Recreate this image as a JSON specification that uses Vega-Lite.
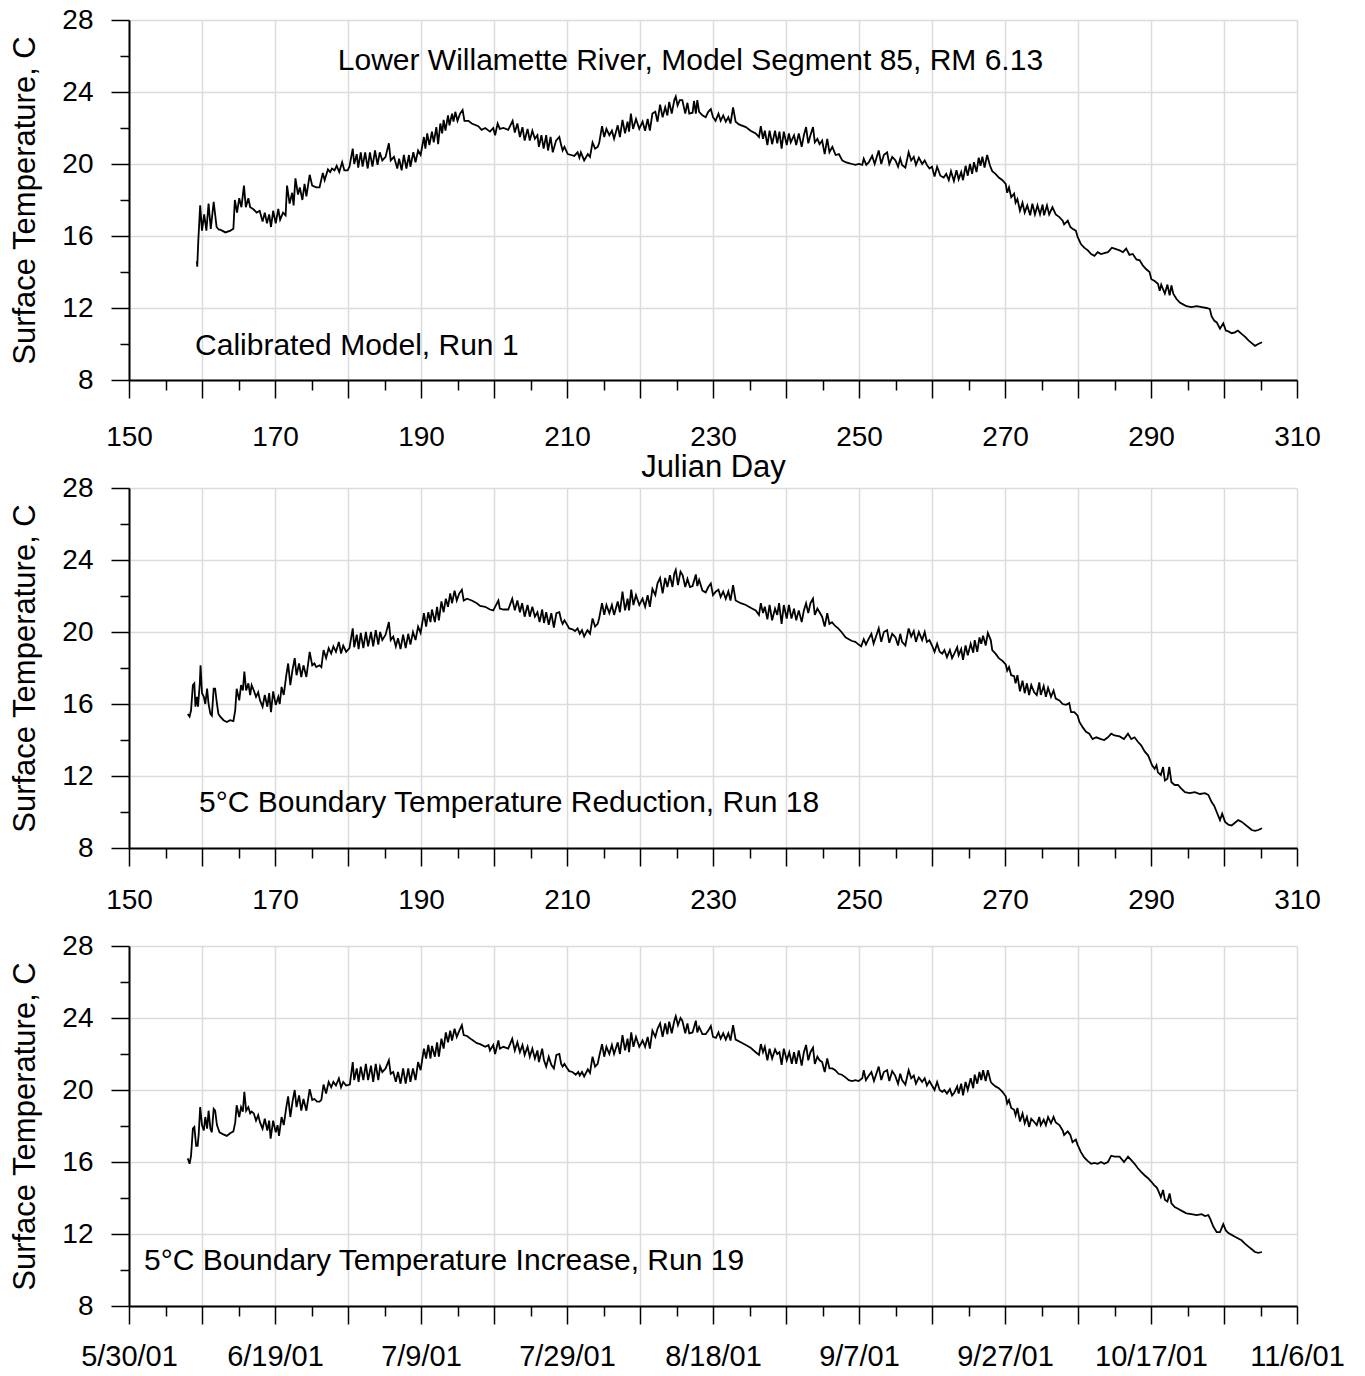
{
"$schema":"https://vega.github.io/schema/vega-lite/v6.json",
"padding":{"left":9,"top":6,"right":5,"bottom":2},
"bounds":"full",
"spacing":18,
"datasets":{
"r1":[{"d":159.3,"t":14.6},{"d":159.35,"t":14.3},{"d":159.5,"t":15.8},{"d":159.75,"t":17.7},{"d":160.0,"t":16.3},{"d":160.3,"t":17.2},{"d":160.6,"t":16.3},{"d":160.9,"t":17.8},{"d":161.2,"t":16.4},{"d":161.6,"t":17.9},{"d":162.0,"t":16.5},{"d":162.3,"t":16.35},{"d":162.5,"t":16.35},{"d":163.2,"t":16.2},{"d":163.9,"t":16.3},{"d":164.3,"t":16.4},{"d":164.5,"t":18.0},{"d":164.8,"t":17.3},{"d":165.1,"t":18.1},{"d":165.4,"t":17.6},{"d":165.75,"t":18.8},{"d":166.0,"t":17.6},{"d":166.35,"t":18.1},{"d":166.6,"t":17.6},{"d":167.0,"t":17.5},{"d":167.5,"t":17.3},{"d":167.9,"t":17.4},{"d":168.3,"t":16.8},{"d":168.6,"t":17.3},{"d":168.9,"t":16.7},{"d":169.2,"t":17.2},{"d":169.45,"t":16.5},{"d":169.75,"t":17.4},{"d":170.1,"t":16.7},{"d":170.45,"t":17.5},{"d":170.7,"t":16.9},{"d":171.1,"t":17.3},{"d":171.45,"t":17.15},{"d":171.65,"t":18.8},{"d":172.0,"t":17.8},{"d":172.35,"t":18.4},{"d":172.55,"t":17.7},{"d":172.8,"t":19.2},{"d":173.15,"t":18.3},{"d":173.4,"t":18.7},{"d":173.75,"t":18.0},{"d":174.05,"t":18.9},{"d":174.3,"t":18.2},{"d":174.75,"t":19.4},{"d":175.1,"t":18.8},{"d":175.65,"t":18.7},{"d":176.1,"t":18.7},{"d":176.55,"t":19.5},{"d":176.8,"t":19.1},{"d":177.25,"t":19.7},{"d":177.55,"t":19.55},{"d":177.8,"t":19.75},{"d":178.15,"t":19.65},{"d":178.45,"t":19.9},{"d":178.8,"t":19.55},{"d":179.2,"t":20.1},{"d":179.5,"t":19.65},{"d":179.95,"t":19.65},{"d":180.2,"t":19.85},{"d":180.65,"t":20.85},{"d":180.85,"t":20.0},{"d":181.2,"t":20.55},{"d":181.4,"t":19.8},{"d":181.75,"t":20.65},{"d":182.0,"t":19.85},{"d":182.35,"t":20.65},{"d":182.7,"t":19.75},{"d":183.0,"t":20.65},{"d":183.35,"t":19.85},{"d":183.7,"t":20.75},{"d":184.05,"t":19.95},{"d":184.35,"t":20.65},{"d":184.7,"t":20.2},{"d":185.15,"t":20.4},{"d":185.6,"t":21.15},{"d":185.85,"t":20.2},{"d":186.3,"t":20.4},{"d":186.75,"t":19.75},{"d":187.0,"t":20.3},{"d":187.35,"t":19.65},{"d":187.65,"t":20.5},{"d":188.0,"t":19.75},{"d":188.35,"t":20.5},{"d":188.55,"t":19.85},{"d":188.95,"t":20.65},{"d":189.25,"t":20.1},{"d":189.6,"t":20.75},{"d":189.95,"t":20.5},{"d":190.4,"t":21.5},{"d":190.6,"t":20.85},{"d":190.85,"t":21.7},{"d":191.15,"t":21.05},{"d":191.5,"t":21.8},{"d":191.75,"t":21.2},{"d":192.1,"t":22.05},{"d":192.35,"t":21.1},{"d":192.65,"t":22.25},{"d":192.9,"t":21.7},{"d":193.1,"t":22.45},{"d":193.35,"t":21.85},{"d":193.7,"t":22.7},{"d":193.9,"t":22.15},{"d":194.25,"t":22.8},{"d":194.45,"t":22.35},{"d":194.7,"t":22.9},{"d":195.0,"t":22.4},{"d":195.35,"t":22.8},{"d":195.7,"t":23.0},{"d":195.95,"t":22.4},{"d":196.5,"t":22.4},{"d":196.95,"t":22.25},{"d":197.85,"t":22.1},{"d":198.3,"t":21.9},{"d":198.8,"t":22.0},{"d":199.45,"t":21.8},{"d":199.9,"t":22.0},{"d":200.15,"t":21.6},{"d":200.5,"t":22.25},{"d":200.8,"t":21.95},{"d":201.3,"t":22.0},{"d":201.95,"t":21.9},{"d":202.55,"t":22.4},{"d":202.85,"t":21.75},{"d":203.2,"t":22.25},{"d":203.55,"t":21.5},{"d":203.9,"t":22.05},{"d":204.2,"t":21.3},{"d":204.6,"t":21.95},{"d":204.9,"t":21.3},{"d":205.25,"t":21.85},{"d":205.6,"t":21.4},{"d":205.95,"t":21.6},{"d":206.15,"t":20.95},{"d":206.5,"t":21.6},{"d":206.8,"t":20.85},{"d":207.15,"t":21.6},{"d":207.4,"t":20.75},{"d":207.75,"t":21.5},{"d":208.05,"t":20.65},{"d":208.5,"t":21.3},
{"d":208.95,"t":21.5},{"d":209.2,"t":21.05},{"d":209.4,"t":20.75},{"d":209.65,"t":20.95},{"d":210.1,"t":20.55},{"d":210.55,"t":20.5},{"d":211.0,"t":20.45},{"d":211.45,"t":20.65},{"d":211.7,"t":20.35},{"d":211.9,"t":20.65},{"d":212.35,"t":20.2},{"d":212.85,"t":20.55},{"d":213.15,"t":20.4},{"d":213.5,"t":21.2},{"d":213.85,"t":20.85},{"d":214.2,"t":20.95},{"d":214.4,"t":21.15},{"d":214.8,"t":22.1},{"d":215.1,"t":21.5},{"d":215.4,"t":21.95},{"d":215.8,"t":21.6},{"d":216.15,"t":21.85},{"d":216.45,"t":21.4},{"d":216.95,"t":22.15},{"d":217.25,"t":21.5},{"d":217.6,"t":22.45},{"d":217.95,"t":21.7},{"d":218.3,"t":22.35},{"d":218.5,"t":21.8},{"d":218.75,"t":22.8},{"d":219.05,"t":21.95},{"d":219.45,"t":22.5},{"d":219.9,"t":21.95},{"d":220.35,"t":22.35},{"d":220.7,"t":21.85},{"d":221.05,"t":22.5},{"d":221.35,"t":21.85},{"d":221.7,"t":22.8},{"d":222.1,"t":22.9},{"d":222.4,"t":22.35},{"d":222.75,"t":23.3},{"d":223.1,"t":22.6},{"d":223.45,"t":23.15},{"d":223.75,"t":22.7},{"d":224.0,"t":23.45},{"d":224.35,"t":22.8},{"d":224.7,"t":23.55},{"d":224.9,"t":23.75},{"d":225.15,"t":23.25},{"d":225.45,"t":23.55},{"d":225.8,"t":23.55},{"d":226.2,"t":22.8},{"d":226.5,"t":23.4},{"d":226.75,"t":22.8},{"d":227.2,"t":22.85},{"d":227.4,"t":23.5},{"d":227.65,"t":22.8},{"d":227.85,"t":23.55},{"d":228.1,"t":22.9},{"d":228.55,"t":22.7},{"d":229.0,"t":22.6},{"d":229.35,"t":22.9},{"d":229.7,"t":23.05},{"d":230.0,"t":22.6},{"d":230.35,"t":22.4},{"d":230.75,"t":22.8},{"d":231.05,"t":22.4},{"d":231.4,"t":22.7},{"d":231.75,"t":22.35},{"d":232.1,"t":22.6},{"d":232.4,"t":22.25},{"d":232.75,"t":23.15},{"d":233.1,"t":22.35},{"d":233.55,"t":22.2},{"d":234.5,"t":22.05},{"d":235.15,"t":21.85},{"d":235.85,"t":21.7},{"d":236.3,"t":21.5},{"d":236.55,"t":22.1},{"d":236.85,"t":21.4},{"d":237.1,"t":21.85},{"d":237.45,"t":21.05},{"d":237.75,"t":21.85},{"d":238.1,"t":21.1},{"d":238.5,"t":21.85},{"d":238.8,"t":21.15},{"d":239.1,"t":21.8},{"d":239.4,"t":20.85},{"d":239.7,"t":21.8},{"d":240.1,"t":21.05},{"d":240.4,"t":21.7},{"d":240.65,"t":21.2},{"d":241.1,"t":21.6},{"d":241.4,"t":21.05},{"d":241.75,"t":21.7},{"d":242.15,"t":20.95},{"d":242.45,"t":21.6},{"d":242.75,"t":22.05},{"d":243.05,"t":21.15},{"d":243.35,"t":21.6},{"d":243.7,"t":22.05},{"d":243.95,"t":21.2},{"d":244.3,"t":21.4},{"d":244.6,"t":21.1},{"d":244.95,"t":21.3},{"d":245.3,"t":20.55},{"d":245.65,"t":21.4},{"d":245.95,"t":20.65},{"d":246.35,"t":20.95},{"d":246.8,"t":20.5},{"d":247.25,"t":20.55},{"d":247.7,"t":20.2},{"d":248.15,"t":20.1},{"d":248.6,"t":20.05},{"d":249.05,"t":20.0},{"d":249.5,"t":19.95},{"d":250.0,"t":20.0},{"d":250.45,"t":19.95},{"d":250.65,"t":20.3},{"d":251.0,"t":19.95},{"d":251.35,"t":20.1},{"d":251.8,"t":20.45},{"d":252.15,"t":20.0},{"d":252.7,"t":20.75},{"d":253.05,"t":20.0},{"d":253.4,"t":20.5},{"d":253.85,"t":20.65},{"d":254.15,"t":20.0},{"d":254.55,"t":20.4},{"d":255.0,"t":20.2},{"d":255.35,"t":19.85},{"d":255.65,"t":20.3},{"d":255.9,"t":19.95},{"d":256.35,"t":19.8},{"d":256.8,"t":20.65},{"d":257.15,"t":20.2},{"d":257.5,"t":20.4},{"d":257.8,"t":19.95},{"d":258.2,"t":20.35},{"d":258.65,"t":20.0},{"d":259.0,"t":20.2},{"d":259.3,"t":19.95},{"d":259.65,"t":19.75},{"d":260.0,"t":19.85},{"d":260.35,"t":19.3},{"d":260.7,"t":19.85},
{"d":261.15,"t":19.35},{"d":261.6,"t":19.25},{"d":261.95,"t":19.45},{"d":262.3,"t":19.1},{"d":262.6,"t":19.6},{"d":263.0,"t":19.05},{"d":263.35,"t":19.65},{"d":263.65,"t":19.15},{"d":264.0,"t":19.55},{"d":264.25,"t":19.1},{"d":264.6,"t":19.9},{"d":264.9,"t":19.35},{"d":265.2,"t":20.0},{"d":265.5,"t":19.45},{"d":265.75,"t":20.1},{"d":266.1,"t":19.55},{"d":266.4,"t":20.35},{"d":266.65,"t":19.9},{"d":266.9,"t":20.4},{"d":267.2,"t":19.8},{"d":267.55,"t":20.5},{"d":267.95,"t":19.9},{"d":268.25,"t":19.6},{"d":268.7,"t":19.45},{"d":269.15,"t":19.25},{"d":269.65,"t":19.1},{"d":270.1,"t":18.9},{"d":270.3,"t":18.4},{"d":270.55,"t":18.7},{"d":270.85,"t":18.15},{"d":271.25,"t":18.35},{"d":271.45,"t":17.85},{"d":271.7,"t":18.05},{"d":272.05,"t":17.4},{"d":272.4,"t":17.85},{"d":272.7,"t":17.3},{"d":273.05,"t":17.7},{"d":273.45,"t":17.15},{"d":273.75,"t":17.8},{"d":274.1,"t":17.2},{"d":274.45,"t":17.7},{"d":274.8,"t":17.2},{"d":275.15,"t":17.75},{"d":275.35,"t":17.15},{"d":275.75,"t":17.7},{"d":276.05,"t":17.2},{"d":276.5,"t":17.6},{"d":276.95,"t":17.2},{"d":277.45,"t":17.05},{"d":277.9,"t":16.85},{"d":278.1,"t":16.65},{"d":278.6,"t":16.85},{"d":278.95,"t":16.5},{"d":279.25,"t":16.4},{"d":279.7,"t":16.3},{"d":279.95,"t":15.95},{"d":280.4,"t":15.55},{"d":280.85,"t":15.35},{"d":281.35,"t":15.2},{"d":281.8,"t":15.0},{"d":282.25,"t":14.9},{"d":282.7,"t":15.1},{"d":283.15,"t":15.0},{"d":283.6,"t":15.05},{"d":284.1,"t":15.1},{"d":284.65,"t":15.35},{"d":285.0,"t":15.3},{"d":285.7,"t":15.2},{"d":286.15,"t":15.1},{"d":286.6,"t":15.3},{"d":287.05,"t":14.95},{"d":287.5,"t":15.0},{"d":288.0,"t":14.7},{"d":288.45,"t":14.65},{"d":288.9,"t":14.35},{"d":289.35,"t":14.15},{"d":289.8,"t":14.0},{"d":290.05,"t":13.6},{"d":290.5,"t":13.5},{"d":290.95,"t":13.35},{"d":291.2,"t":12.95},{"d":291.4,"t":13.3},{"d":291.9,"t":12.8},{"d":292.25,"t":13.3},{"d":292.55,"t":12.7},{"d":292.8,"t":13.25},{"d":293.05,"t":12.8},{"d":293.5,"t":12.5},{"d":293.95,"t":12.3},{"d":294.4,"t":12.2},{"d":294.85,"t":12.1},{"d":295.55,"t":12.05},{"d":296.25,"t":12.1},{"d":296.95,"t":12.05},{"d":297.6,"t":12.0},{"d":298.05,"t":11.95},{"d":298.3,"t":11.55},{"d":298.65,"t":11.3},{"d":299.0,"t":11.2},{"d":299.45,"t":10.85},{"d":299.9,"t":11.15},{"d":300.25,"t":10.75},{"d":300.6,"t":10.7},{"d":301.05,"t":10.6},{"d":301.5,"t":10.65},{"d":301.9,"t":10.75},{"d":302.45,"t":10.55},{"d":302.9,"t":10.4},{"d":303.35,"t":10.2},{"d":303.8,"t":10.05},{"d":304.25,"t":9.9},{"d":304.7,"t":10.0},{"d":305.2,"t":10.1}],
"r18":[{"d":158.05,"t":15.45},{"d":158.3,"t":15.3},{"d":158.5,"t":15.65},{"d":158.75,"t":17.05},{"d":158.95,"t":17.15},{"d":159.1,"t":15.85},{"d":159.3,"t":16.4},{"d":159.45,"t":15.85},{"d":159.7,"t":17.15},{"d":159.8,"t":18.15},{"d":160.0,"t":16.6},{"d":160.25,"t":16.4},{"d":160.45,"t":16.0},{"d":160.7,"t":16.85},{"d":160.9,"t":16.0},{"d":161.15,"t":15.45},{"d":161.35,"t":15.35},{"d":161.6,"t":16.85},{"d":161.8,"t":16.85},{"d":162.05,"t":16.0},{"d":162.25,"t":15.45},{"d":162.5,"t":15.3},{"d":162.95,"t":15.1},{"d":163.4,"t":15.0},{"d":163.85,"t":15.1},{"d":164.3,"t":15.05},{"d":164.55,"t":15.65},{"d":164.75,"t":16.85},{"d":165.1,"t":16.2},{"d":165.35,"t":17.05},{"d":165.6,"t":16.75},{"d":165.8,"t":17.8},{"d":166.05,"t":16.75},{"d":166.35,"t":17.15},{"d":166.6,"t":16.5},{"d":166.8,"t":17.05},{"d":167.1,"t":16.75},{"d":167.4,"t":16.4},{"d":167.7,"t":16.65},{"d":167.95,"t":16.2},{"d":168.3,"t":15.85},{"d":168.6,"t":16.5},{"d":168.95,"t":15.85},{"d":169.2,"t":16.6},{"d":169.45,"t":15.55},{"d":169.75,"t":16.7},{"d":170.1,"t":15.95},{"d":170.45,"t":16.4},{"d":170.65,"t":16.0},{"d":170.9,"t":16.95},{"d":171.2,"t":16.5},{"d":171.55,"t":17.6},{"d":171.8,"t":18.25},{"d":172.1,"t":17.05},{"d":172.4,"t":17.9},{"d":172.7,"t":18.55},{"d":172.95,"t":17.6},{"d":173.3,"t":18.25},{"d":173.6,"t":17.5},{"d":173.9,"t":18.15},{"d":174.3,"t":17.5},{"d":174.75,"t":18.9},{"d":175.1,"t":18.15},{"d":175.4,"t":18.25},{"d":175.65,"t":18.05},{"d":176.1,"t":18.15},{"d":176.35,"t":18.05},{"d":176.65,"t":19.0},{"d":177.0,"t":18.55},{"d":177.35,"t":19.1},{"d":177.7,"t":18.8},{"d":178.0,"t":19.2},{"d":178.35,"t":18.9},{"d":178.75,"t":19.45},{"d":179.05,"t":18.8},{"d":179.35,"t":19.25},{"d":179.75,"t":18.9},{"d":180.2,"t":19.1},{"d":180.65,"t":20.2},{"d":180.85,"t":19.15},{"d":181.2,"t":19.85},{"d":181.45,"t":19.05},{"d":181.75,"t":19.95},{"d":182.1,"t":19.1},{"d":182.45,"t":20.0},{"d":182.75,"t":19.2},{"d":183.15,"t":20.0},{"d":183.45,"t":19.2},{"d":183.8,"t":20.1},{"d":184.15,"t":19.3},{"d":184.4,"t":20.0},{"d":184.7,"t":19.55},{"d":185.15,"t":19.85},{"d":185.6,"t":20.55},{"d":185.85,"t":19.55},{"d":186.2,"t":19.75},{"d":186.55,"t":19.2},{"d":186.85,"t":19.65},{"d":187.2,"t":19.05},{"d":187.55,"t":19.85},{"d":187.9,"t":19.1},{"d":188.25,"t":19.9},{"d":188.55,"t":19.3},{"d":188.9,"t":20.0},{"d":189.25,"t":19.55},{"d":189.6,"t":20.3},{"d":189.95,"t":19.95},{"d":190.4,"t":21.05},{"d":190.7,"t":20.3},{"d":191.0,"t":21.1},{"d":191.3,"t":20.55},{"d":191.5,"t":21.25},{"d":191.9,"t":20.55},{"d":192.2,"t":21.4},{"d":192.45,"t":20.65},{"d":192.8,"t":21.7},{"d":193.1,"t":21.1},{"d":193.4,"t":21.85},{"d":193.7,"t":21.4},{"d":194.0,"t":22.15},{"d":194.25,"t":21.6},{"d":194.6,"t":22.3},{"d":194.9,"t":21.75},{"d":195.25,"t":22.15},{"d":195.6,"t":22.35},{"d":195.85,"t":21.75},{"d":196.3,"t":21.85},{"d":196.95,"t":21.75},{"d":197.65,"t":21.6},{"d":198.1,"t":21.45},{"d":198.8,"t":21.4},{"d":199.45,"t":21.25},{"d":199.9,"t":21.2},{"d":200.15,"t":21.4},{"d":200.6,"t":21.75},{"d":200.8,"t":21.3},{"d":201.3,"t":21.25},{"d":201.95,"t":21.25},{"d":202.5,"t":21.85},{"d":202.85,"t":21.2},{"d":203.2,"t":21.75},{"d":203.55,"t":21.1},{"d":203.85,"t":21.6},{"d":204.2,"t":20.85},{"d":204.6,"t":21.5},{"d":204.9,"t":20.85},{"d":205.25,"t":21.4},{"d":205.6,"t":20.85},{"d":205.95,"t":21.1},{"d":206.25,"t":20.55},{"d":206.6,"t":21.25},{"d":206.85,"t":20.5},{"d":207.15,"t":21.1},{"d":207.5,"t":20.4},{"d":207.85,"t":21.05},{"d":208.2,"t":20.25},{"d":208.55,"t":21.05},
{"d":208.95,"t":21.1},{"d":209.2,"t":20.65},{"d":209.4,"t":20.45},{"d":209.65,"t":20.65},{"d":209.95,"t":20.45},{"d":210.3,"t":20.2},{"d":210.75,"t":20.15},{"d":211.1,"t":20.05},{"d":211.45,"t":20.2},{"d":211.75,"t":19.9},{"d":212.05,"t":20.1},{"d":212.35,"t":19.75},{"d":212.8,"t":20.1},{"d":213.15,"t":19.9},{"d":213.5,"t":20.75},{"d":213.85,"t":20.3},{"d":214.2,"t":20.45},{"d":214.4,"t":20.75},{"d":214.8,"t":21.6},{"d":215.1,"t":20.95},{"d":215.4,"t":21.5},{"d":215.8,"t":21.05},{"d":216.15,"t":21.5},{"d":216.45,"t":20.95},{"d":216.95,"t":21.7},{"d":217.25,"t":21.1},{"d":217.6,"t":22.25},{"d":217.95,"t":21.2},{"d":218.3,"t":21.85},{"d":218.5,"t":21.2},{"d":218.8,"t":22.35},{"d":219.1,"t":21.5},{"d":219.45,"t":22.05},{"d":219.9,"t":21.5},{"d":220.35,"t":21.85},{"d":220.7,"t":21.4},{"d":221.05,"t":22.05},{"d":221.35,"t":21.4},{"d":221.7,"t":22.4},{"d":222.1,"t":22.05},{"d":222.4,"t":22.7},{"d":222.75,"t":23.0},{"d":223.1,"t":22.15},{"d":223.45,"t":23.0},{"d":223.75,"t":22.5},{"d":224.1,"t":23.15},{"d":224.45,"t":22.5},{"d":224.7,"t":23.25},{"d":224.9,"t":23.45},{"d":225.2,"t":22.6},{"d":225.55,"t":23.35},{"d":225.85,"t":23.15},{"d":226.2,"t":22.5},{"d":226.5,"t":22.95},{"d":226.85,"t":22.5},{"d":227.2,"t":22.55},{"d":227.65,"t":23.2},{"d":227.85,"t":22.55},{"d":228.1,"t":22.9},{"d":228.55,"t":22.3},{"d":229.0,"t":22.2},{"d":229.35,"t":22.5},{"d":229.7,"t":22.7},{"d":230.0,"t":22.05},{"d":230.4,"t":22.25},{"d":230.75,"t":22.35},{"d":231.05,"t":21.95},{"d":231.4,"t":22.25},{"d":231.75,"t":21.85},{"d":232.1,"t":22.25},{"d":232.4,"t":21.75},{"d":232.75,"t":22.6},{"d":233.1,"t":21.75},{"d":233.8,"t":21.6},{"d":234.5,"t":21.5},{"d":235.15,"t":21.35},{"d":235.85,"t":21.2},{"d":236.3,"t":20.95},{"d":236.55,"t":21.6},{"d":236.85,"t":21.05},{"d":237.1,"t":21.4},{"d":237.45,"t":20.7},{"d":237.75,"t":21.5},{"d":238.1,"t":20.65},{"d":238.5,"t":21.3},{"d":238.8,"t":20.95},{"d":239.05,"t":21.6},{"d":239.4,"t":20.45},{"d":239.7,"t":21.5},{"d":240.1,"t":20.75},{"d":240.4,"t":21.5},{"d":240.75,"t":20.75},{"d":241.1,"t":21.3},{"d":241.4,"t":20.65},{"d":241.75,"t":21.2},{"d":242.15,"t":20.55},{"d":242.45,"t":21.2},{"d":242.75,"t":21.6},{"d":243.05,"t":21.05},{"d":243.35,"t":21.6},{"d":243.7,"t":21.85},{"d":243.95,"t":20.95},{"d":244.3,"t":21.3},{"d":244.6,"t":21.1},{"d":244.95,"t":20.85},{"d":245.3,"t":20.3},{"d":245.65,"t":21.05},{"d":245.95,"t":20.45},{"d":246.3,"t":20.55},{"d":246.7,"t":20.35},{"d":247.15,"t":20.2},{"d":247.6,"t":20.0},{"d":248.15,"t":19.7},{"d":248.6,"t":19.6},{"d":249.05,"t":19.5},{"d":249.5,"t":19.45},{"d":249.95,"t":19.3},{"d":250.3,"t":19.2},{"d":250.65,"t":19.6},{"d":250.95,"t":19.3},{"d":251.3,"t":19.6},{"d":251.7,"t":19.9},{"d":252.0,"t":19.35},{"d":252.7,"t":20.2},{"d":253.05,"t":19.45},{"d":253.4,"t":20.0},{"d":253.85,"t":20.1},{"d":254.15,"t":19.4},{"d":254.55,"t":19.9},{"d":255.0,"t":19.7},{"d":255.35,"t":19.25},{"d":255.65,"t":19.9},{"d":255.9,"t":19.45},{"d":256.35,"t":19.25},{"d":256.8,"t":20.2},{"d":257.15,"t":19.75},{"d":257.5,"t":20.05},{"d":257.8,"t":19.45},{"d":258.2,"t":20.0},{"d":258.65,"t":19.55},{"d":259.0,"t":20.0},{"d":259.3,"t":19.45},{"d":259.65,"t":19.55},{"d":260.0,"t":19.25},{"d":260.35,"t":18.9},{"d":260.7,"t":19.35},
{"d":261.05,"t":18.9},{"d":261.4,"t":18.8},{"d":261.7,"t":19.0},{"d":262.05,"t":18.6},{"d":262.45,"t":19.0},{"d":262.75,"t":18.55},{"d":263.05,"t":18.8},{"d":263.45,"t":19.15},{"d":263.65,"t":18.7},{"d":264.0,"t":19.05},{"d":264.25,"t":18.45},{"d":264.6,"t":19.25},{"d":264.9,"t":18.7},{"d":265.3,"t":19.35},{"d":265.65,"t":18.85},{"d":265.85,"t":19.55},{"d":266.2,"t":18.9},{"d":266.5,"t":19.7},{"d":266.75,"t":19.35},{"d":267.0,"t":19.8},{"d":267.35,"t":19.25},{"d":267.65,"t":19.95},{"d":268.05,"t":19.55},{"d":268.25,"t":19.0},{"d":268.7,"t":18.8},{"d":269.15,"t":18.55},{"d":269.65,"t":18.4},{"d":270.1,"t":18.2},{"d":270.3,"t":17.85},{"d":270.55,"t":18.05},{"d":270.85,"t":17.6},{"d":271.25,"t":17.55},{"d":271.45,"t":17.15},{"d":271.7,"t":17.6},{"d":272.05,"t":16.7},{"d":272.4,"t":17.3},{"d":272.7,"t":16.6},{"d":273.0,"t":17.15},{"d":273.3,"t":16.5},{"d":273.6,"t":17.05},{"d":274.0,"t":16.65},{"d":274.35,"t":16.5},{"d":274.7,"t":17.2},{"d":274.9,"t":16.5},{"d":275.3,"t":17.0},{"d":275.6,"t":16.4},{"d":275.9,"t":16.9},{"d":276.3,"t":16.4},{"d":276.65,"t":16.75},{"d":276.95,"t":16.3},{"d":277.45,"t":16.2},{"d":277.9,"t":16.0},{"d":278.35,"t":15.95},{"d":278.8,"t":16.05},{"d":279.05,"t":15.55},{"d":279.5,"t":15.55},{"d":279.95,"t":15.35},{"d":280.2,"t":15.0},{"d":280.65,"t":14.7},{"d":281.1,"t":14.45},{"d":281.55,"t":14.35},{"d":282.0,"t":14.05},{"d":282.5,"t":14.15},{"d":283.15,"t":14.05},{"d":283.6,"t":14.0},{"d":284.1,"t":14.15},{"d":284.55,"t":14.35},{"d":285.0,"t":14.25},{"d":285.7,"t":14.2},{"d":286.3,"t":14.05},{"d":286.85,"t":14.35},{"d":287.3,"t":14.05},{"d":287.75,"t":14.15},{"d":288.2,"t":13.9},{"d":288.65,"t":13.7},{"d":289.15,"t":13.35},{"d":289.6,"t":13.15},{"d":289.8,"t":12.95},{"d":290.15,"t":12.6},{"d":290.5,"t":12.4},{"d":290.75,"t":12.6},{"d":290.95,"t":12.2},{"d":291.35,"t":12.05},{"d":291.65,"t":12.5},{"d":291.9,"t":11.75},{"d":292.25,"t":11.85},{"d":292.5,"t":12.5},{"d":292.8,"t":11.65},{"d":293.25,"t":11.5},{"d":293.7,"t":11.5},{"d":294.15,"t":11.3},{"d":294.65,"t":11.1},{"d":295.3,"t":11.05},{"d":296.0,"t":11.1},{"d":296.7,"t":11.0},{"d":297.4,"t":11.05},{"d":297.85,"t":10.95},{"d":298.3,"t":10.55},{"d":298.65,"t":10.35},{"d":299.0,"t":10.0},{"d":299.45,"t":9.55},{"d":299.75,"t":9.9},{"d":300.15,"t":9.45},{"d":300.6,"t":9.3},{"d":301.05,"t":9.25},{"d":301.5,"t":9.4},{"d":301.95,"t":9.55},{"d":302.45,"t":9.45},{"d":302.9,"t":9.3},{"d":303.35,"t":9.15},{"d":303.8,"t":9.0},{"d":304.25,"t":8.95},{"d":304.7,"t":9.0},{"d":305.2,"t":9.1}],
"r19":[{"d":158.05,"t":16.2},{"d":158.3,"t":15.9},{"d":158.5,"t":16.35},{"d":158.75,"t":17.85},{"d":158.95,"t":17.95},{"d":159.2,"t":16.9},{"d":159.4,"t":16.9},{"d":159.55,"t":17.55},{"d":159.75,"t":19.05},{"d":160.0,"t":18.05},{"d":160.25,"t":17.75},{"d":160.45,"t":18.5},{"d":160.7,"t":17.85},{"d":160.9,"t":18.85},{"d":161.15,"t":17.85},{"d":161.35,"t":17.65},{"d":161.6,"t":18.95},{"d":161.8,"t":18.85},{"d":162.05,"t":18.05},{"d":162.4,"t":17.65},{"d":162.85,"t":17.55},{"d":163.4,"t":17.45},{"d":163.85,"t":17.6},{"d":164.3,"t":17.7},{"d":164.55,"t":18.2},{"d":164.75,"t":19.15},{"d":165.1,"t":18.5},{"d":165.35,"t":19.05},{"d":165.6,"t":18.8},{"d":165.8,"t":19.9},{"d":166.05,"t":18.85},{"d":166.35,"t":19.05},{"d":166.6,"t":18.7},{"d":166.8,"t":18.8},{"d":167.1,"t":18.7},{"d":167.4,"t":18.3},{"d":167.7,"t":18.6},{"d":167.95,"t":18.2},{"d":168.3,"t":17.85},{"d":168.6,"t":18.4},{"d":168.95,"t":17.75},{"d":169.2,"t":18.3},{"d":169.4,"t":17.3},{"d":169.75,"t":18.3},{"d":170.1,"t":17.65},{"d":170.35,"t":18.05},{"d":170.55,"t":17.45},{"d":170.9,"t":18.5},{"d":171.2,"t":18.05},{"d":171.55,"t":19.05},{"d":171.8,"t":19.65},{"d":172.1,"t":18.5},{"d":172.4,"t":19.35},{"d":172.7,"t":20.0},{"d":172.95,"t":19.05},{"d":173.3,"t":19.7},{"d":173.6,"t":18.85},{"d":173.9,"t":19.5},{"d":174.3,"t":18.85},{"d":174.75,"t":20.05},{"d":175.1,"t":19.45},{"d":175.4,"t":19.5},{"d":175.75,"t":19.35},{"d":176.1,"t":19.35},{"d":176.35,"t":19.45},{"d":176.65,"t":20.3},{"d":177.0,"t":19.8},{"d":177.35,"t":20.45},{"d":177.7,"t":20.15},{"d":178.0,"t":20.45},{"d":178.35,"t":20.25},{"d":178.75,"t":20.65},{"d":179.05,"t":20.15},{"d":179.35,"t":20.45},{"d":179.75,"t":20.25},{"d":180.25,"t":20.3},{"d":180.65,"t":21.55},{"d":180.85,"t":20.55},{"d":181.2,"t":21.2},{"d":181.45,"t":20.45},{"d":181.75,"t":21.3},{"d":182.1,"t":20.55},{"d":182.45,"t":21.45},{"d":182.75,"t":20.55},{"d":183.15,"t":21.35},{"d":183.45,"t":20.45},{"d":183.8,"t":21.45},{"d":184.15,"t":20.55},{"d":184.4,"t":21.3},{"d":184.7,"t":21.0},{"d":185.15,"t":21.2},{"d":185.6,"t":21.65},{"d":185.85,"t":20.9},{"d":186.2,"t":21.0},{"d":186.55,"t":20.45},{"d":186.85,"t":21.0},{"d":187.2,"t":20.35},{"d":187.55,"t":21.2},{"d":187.9,"t":20.35},{"d":188.25,"t":21.2},{"d":188.55,"t":20.45},{"d":188.9,"t":21.2},{"d":189.25,"t":20.55},{"d":189.6,"t":21.55},{"d":189.95,"t":21.1},{"d":190.4,"t":22.3},{"d":190.7,"t":21.75},{"d":191.0,"t":22.5},{"d":191.3,"t":21.75},{"d":191.5,"t":22.45},{"d":191.9,"t":21.85},{"d":192.2,"t":22.65},{"d":192.45,"t":21.85},{"d":192.8,"t":22.85},{"d":193.1,"t":22.3},{"d":193.4,"t":23.2},{"d":193.7,"t":22.65},{"d":194.0,"t":23.3},{"d":194.25,"t":22.75},{"d":194.6,"t":23.4},{"d":194.9,"t":22.95},{"d":195.25,"t":23.3},{"d":195.6,"t":23.6},{"d":195.85,"t":23.05},{"d":196.3,"t":23.0},{"d":196.95,"t":22.8},{"d":197.65,"t":22.6},{"d":198.1,"t":22.55},{"d":198.8,"t":22.4},{"d":199.25,"t":22.5},{"d":199.45,"t":22.2},{"d":199.9,"t":22.5},{"d":200.15,"t":22.0},{"d":200.6,"t":22.75},{"d":200.8,"t":22.3},{"d":201.3,"t":22.4},{"d":201.95,"t":22.3},{"d":202.5,"t":22.85},{"d":202.85,"t":22.2},{"d":203.2,"t":22.65},{"d":203.55,"t":22.1},{"d":203.9,"t":22.5},{"d":204.2,"t":21.95},{"d":204.6,"t":22.4},{"d":204.9,"t":21.85},{"d":205.25,"t":22.3},{"d":205.6,"t":21.75},{"d":205.95,"t":22.2},{"d":206.15,"t":21.55},{"d":206.6,"t":22.3},{"d":206.85,"t":21.65},{"d":207.15,"t":21.3},{"d":207.5,"t":21.85},{"d":207.85,"t":21.4},{"d":208.2,"t":21.2},{"d":208.55,"t":21.95},
{"d":208.95,"t":22.0},{"d":209.2,"t":21.45},{"d":209.4,"t":21.3},{"d":209.65,"t":21.45},{"d":209.95,"t":21.25},{"d":210.3,"t":21.05},{"d":210.75,"t":21.0},{"d":211.2,"t":20.85},{"d":211.55,"t":21.0},{"d":211.75,"t":20.8},{"d":212.05,"t":21.0},{"d":212.35,"t":20.75},{"d":212.85,"t":21.15},{"d":213.15,"t":20.95},{"d":213.5,"t":21.85},{"d":213.85,"t":21.3},{"d":214.2,"t":21.45},{"d":214.4,"t":21.85},{"d":214.8,"t":22.55},{"d":215.1,"t":21.85},{"d":215.4,"t":22.4},{"d":215.8,"t":22.0},{"d":216.15,"t":22.5},{"d":216.45,"t":22.0},{"d":216.95,"t":22.65},{"d":217.25,"t":22.0},{"d":217.6,"t":23.05},{"d":217.95,"t":22.2},{"d":218.3,"t":22.85},{"d":218.5,"t":22.1},{"d":218.8,"t":23.2},{"d":219.1,"t":22.4},{"d":219.45,"t":22.95},{"d":219.9,"t":22.4},{"d":220.35,"t":22.75},{"d":220.7,"t":22.4},{"d":221.05,"t":22.95},{"d":221.35,"t":22.3},{"d":221.7,"t":23.3},{"d":222.1,"t":22.95},{"d":222.4,"t":23.4},{"d":222.75,"t":23.7},{"d":223.1,"t":22.95},{"d":223.45,"t":23.7},{"d":223.75,"t":23.1},{"d":224.0,"t":23.8},{"d":224.35,"t":23.15},{"d":224.7,"t":23.85},{"d":224.9,"t":24.1},{"d":225.2,"t":23.6},{"d":225.55,"t":24.0},{"d":225.8,"t":23.85},{"d":226.2,"t":23.15},{"d":226.5,"t":23.7},{"d":226.75,"t":23.15},{"d":227.2,"t":23.2},{"d":227.65,"t":23.85},{"d":227.85,"t":23.2},{"d":228.1,"t":23.5},{"d":228.55,"t":23.1},{"d":229.0,"t":23.1},{"d":229.35,"t":23.3},{"d":229.7,"t":23.55},{"d":230.0,"t":22.95},{"d":230.4,"t":22.9},{"d":230.75,"t":23.2},{"d":231.05,"t":22.85},{"d":231.4,"t":23.15},{"d":231.75,"t":22.8},{"d":232.1,"t":23.15},{"d":232.4,"t":22.75},{"d":232.75,"t":23.6},{"d":233.1,"t":22.8},{"d":233.8,"t":22.65},{"d":234.5,"t":22.5},{"d":235.15,"t":22.35},{"d":235.85,"t":22.1},{"d":236.3,"t":21.95},{"d":236.55,"t":22.55},{"d":236.85,"t":22.1},{"d":237.1,"t":22.4},{"d":237.45,"t":21.65},{"d":237.75,"t":22.3},{"d":238.1,"t":21.75},{"d":238.5,"t":22.25},{"d":238.8,"t":22.0},{"d":239.1,"t":22.1},{"d":239.4,"t":21.4},{"d":239.7,"t":22.3},{"d":240.1,"t":21.65},{"d":240.45,"t":22.1},{"d":240.8,"t":21.45},{"d":241.1,"t":22.1},{"d":241.4,"t":21.45},{"d":241.75,"t":22.2},{"d":242.15,"t":21.35},{"d":242.45,"t":22.1},{"d":242.75,"t":22.5},{"d":243.05,"t":21.65},{"d":243.35,"t":22.1},{"d":243.7,"t":22.35},{"d":243.95,"t":21.45},{"d":244.3,"t":21.85},{"d":244.6,"t":21.65},{"d":244.95,"t":21.55},{"d":245.3,"t":21.0},{"d":245.65,"t":21.75},{"d":245.95,"t":21.2},{"d":246.35,"t":21.2},{"d":246.75,"t":21.1},{"d":247.2,"t":20.9},{"d":247.65,"t":20.85},{"d":248.15,"t":20.7},{"d":248.6,"t":20.55},{"d":249.05,"t":20.5},{"d":249.5,"t":20.55},{"d":249.95,"t":20.5},{"d":250.45,"t":20.65},{"d":250.65,"t":21.1},{"d":250.95,"t":20.55},{"d":251.35,"t":20.8},{"d":251.7,"t":21.0},{"d":252.05,"t":20.5},{"d":252.7,"t":21.3},{"d":253.05,"t":20.55},{"d":253.4,"t":21.0},{"d":253.85,"t":21.1},{"d":254.15,"t":20.5},{"d":254.55,"t":21.05},{"d":254.95,"t":20.8},{"d":255.35,"t":20.35},{"d":255.65,"t":20.9},{"d":255.9,"t":20.55},{"d":256.35,"t":20.3},{"d":256.8,"t":21.1},{"d":257.15,"t":20.65},{"d":257.5,"t":20.8},{"d":257.8,"t":20.35},{"d":258.2,"t":20.7},{"d":258.65,"t":20.45},{"d":259.0,"t":20.65},{"d":259.3,"t":20.25},{"d":259.65,"t":20.5},{"d":260.0,"t":20.25},{"d":260.35,"t":20.0},{"d":260.7,"t":20.45},
{"d":261.05,"t":20.0},{"d":261.4,"t":19.9},{"d":261.7,"t":20.0},{"d":262.05,"t":19.8},{"d":262.45,"t":20.05},{"d":262.75,"t":19.7},{"d":263.05,"t":19.85},{"d":263.45,"t":20.2},{"d":263.65,"t":19.8},{"d":264.0,"t":20.35},{"d":264.25,"t":19.7},{"d":264.6,"t":20.45},{"d":264.9,"t":20.0},{"d":265.3,"t":20.65},{"d":265.65,"t":20.1},{"d":265.85,"t":20.85},{"d":266.2,"t":20.35},{"d":266.5,"t":21.0},{"d":266.75,"t":20.55},{"d":267.0,"t":21.1},{"d":267.35,"t":20.5},{"d":267.65,"t":21.1},{"d":268.05,"t":20.45},{"d":268.25,"t":20.35},{"d":268.7,"t":20.2},{"d":269.15,"t":20.1},{"d":269.65,"t":19.9},{"d":270.1,"t":19.65},{"d":270.3,"t":19.25},{"d":270.55,"t":19.45},{"d":270.85,"t":19.0},{"d":271.25,"t":18.9},{"d":271.45,"t":18.6},{"d":271.7,"t":19.0},{"d":272.05,"t":18.25},{"d":272.4,"t":18.7},{"d":272.7,"t":18.15},{"d":273.0,"t":18.5},{"d":273.3,"t":17.95},{"d":273.6,"t":18.4},{"d":273.95,"t":18.25},{"d":274.35,"t":18.05},{"d":274.7,"t":18.5},{"d":274.9,"t":18.05},{"d":275.3,"t":18.35},{"d":275.6,"t":18.05},{"d":275.9,"t":18.5},{"d":276.3,"t":18.15},{"d":276.65,"t":18.5},{"d":276.95,"t":18.2},{"d":277.45,"t":18.05},{"d":277.9,"t":17.75},{"d":278.1,"t":17.5},{"d":278.6,"t":17.7},{"d":278.95,"t":17.5},{"d":279.25,"t":17.1},{"d":279.7,"t":17.25},{"d":279.95,"t":16.95},{"d":280.4,"t":16.55},{"d":280.85,"t":16.25},{"d":281.35,"t":16.05},{"d":281.8,"t":15.9},{"d":282.25,"t":15.95},{"d":282.7,"t":15.9},{"d":283.15,"t":16.0},{"d":283.6,"t":15.9},{"d":284.1,"t":16.0},{"d":284.55,"t":16.35},{"d":285.0,"t":16.3},{"d":285.7,"t":16.3},{"d":286.3,"t":16.0},{"d":286.85,"t":16.3},{"d":287.3,"t":16.1},{"d":287.75,"t":15.9},{"d":288.2,"t":15.65},{"d":288.65,"t":15.45},{"d":289.15,"t":15.25},{"d":289.6,"t":15.1},{"d":290.05,"t":14.9},{"d":290.45,"t":14.7},{"d":290.75,"t":14.6},{"d":290.95,"t":14.45},{"d":291.35,"t":14.05},{"d":291.65,"t":14.45},{"d":291.9,"t":13.9},{"d":292.25,"t":13.8},{"d":292.55,"t":14.25},{"d":292.8,"t":13.7},{"d":293.25,"t":13.5},{"d":293.7,"t":13.4},{"d":294.15,"t":13.3},{"d":294.85,"t":13.15},{"d":295.55,"t":13.1},{"d":296.25,"t":13.05},{"d":296.95,"t":13.1},{"d":297.4,"t":13.0},{"d":297.85,"t":13.05},{"d":298.1,"t":12.85},{"d":298.55,"t":12.4},{"d":299.0,"t":12.1},{"d":299.45,"t":12.1},{"d":299.9,"t":12.55},{"d":300.25,"t":12.2},{"d":300.6,"t":12.05},{"d":301.05,"t":11.95},{"d":301.5,"t":11.85},{"d":301.95,"t":11.75},{"d":302.4,"t":11.65},{"d":302.9,"t":11.45},{"d":303.35,"t":11.3},{"d":303.8,"t":11.15},{"d":304.25,"t":11.0},{"d":304.7,"t":10.95},{"d":305.2,"t":11.0}]
},
"vconcat":[
{"bounds":"flush","spacing":108,"vconcat":[
{"width":1168,"height":360,
 "layer":[
  {"data":{"name":"r1"},"mark":{"type":"line","color":"black","strokeWidth":1.8},
   "encoding":{
    "x":{"field":"d","type":"quantitative","scale":{"domain":[150,310],"nice":false,"zero":false},
         "axis":{"orient":"bottom","values":[150,160,170,180,190,200,210,220,230,240,250,260,270,280,290,300,310],"tickSize":18,"labelPadding":25,"grid":true,"labelExpr":"datum.value % 20 == 0 ? '' : datum.label","title":"Julian Day","titlePadding":1}},
    "y":{"field":"t","type":"quantitative","scale":{"domain":[8,28],"nice":false,"zero":false},
         "axis":{"orient":"left","values":[8,12,16,20,24,28],"tickSize":18,"labelPadding":18,"grid":true,"title":"Surface Temperature, C","titlePadding":20}}}},
  {"data":{"values":[{"d":178.6,"t":25.22,"label":"Lower Willamette River, Model Segment 85, RM 6.13"},{"d":159.05,"t":9.4,"label":"Calibrated Model, Run 1"}]},
   "mark":{"type":"text","align":"left","baseline":"alphabetic","fontSize":30,"font":"Liberation Sans","color":"black"},
   "encoding":{
    "x":{"field":"d","type":"quantitative","scale":{"domain":[150,310],"nice":false,"zero":false},
         "axis":{"orient":"bottom","values":[155,165,175,185,195,205,215,225,235,245,255,265,275,285,295,305],"tickSize":10,"labels":false,"grid":false,"domain":false,"title":null}},
    "y":{"field":"t","type":"quantitative","scale":{"domain":[8,28],"nice":false,"zero":false},
         "axis":{"orient":"left","values":[10,14,18,22,26],"tickSize":9,"labels":false,"grid":false,"domain":false,"title":null}},
    "text":{"field":"label","type":"nominal"}}}
 ],
 "resolve":{"axis":{"x":"independent","y":"independent"}}
},
{"width":1168,"height":360,
 "layer":[
  {"data":{"name":"r18"},"mark":{"type":"line","color":"black","strokeWidth":1.8},
   "encoding":{
    "x":{"field":"d","type":"quantitative","scale":{"domain":[150,310],"nice":false,"zero":false},
         "axis":{"orient":"bottom","values":[150,160,170,180,190,200,210,220,230,240,250,260,270,280,290,300,310],"tickSize":18,"labelPadding":20,"grid":true,"labelExpr":"datum.value % 20 == 0 ? '' : datum.label","title":null}},
    "y":{"field":"t","type":"quantitative","scale":{"domain":[8,28],"nice":false,"zero":false},
         "axis":{"orient":"left","values":[8,12,16,20,24,28],"tickSize":18,"labelPadding":18,"grid":true,"title":"Surface Temperature, C","titlePadding":20}}}},
  {"data":{"values":[{"d":159.6,"t":10.0,"label":"5°C Boundary Temperature Reduction, Run 18"}]},
   "mark":{"type":"text","align":"left","baseline":"alphabetic","fontSize":30,"font":"Liberation Sans","color":"black"},
   "encoding":{
    "x":{"field":"d","type":"quantitative","scale":{"domain":[150,310],"nice":false,"zero":false},
         "axis":{"orient":"bottom","values":[155,165,175,185,195,205,215,225,235,245,255,265,275,285,295,305],"tickSize":10,"labels":false,"grid":false,"domain":false,"title":null}},
    "y":{"field":"t","type":"quantitative","scale":{"domain":[8,28],"nice":false,"zero":false},
         "axis":{"orient":"left","values":[10,14,18,22,26],"tickSize":9,"labels":false,"grid":false,"domain":false,"title":null}},
    "text":{"field":"label","type":"nominal"}}}
 ],
 "resolve":{"axis":{"x":"independent","y":"independent"}}
}
]},
{"width":1168,"height":360,
 "layer":[
  {"data":{"name":"r19"},"mark":{"type":"line","color":"black","strokeWidth":1.8},
   "encoding":{
    "x":{"field":"d","type":"quantitative","scale":{"domain":[150,310],"nice":false,"zero":false},
         "axis":{"orient":"bottom","values":[150,160,170,180,190,200,210,220,230,240,250,260,270,280,290,300,310],"tickSize":18,"labelPadding":18,"labelFontSize":29,"grid":true,"labelExpr":"datum.value % 20 == 0 ? '' : timeFormat(datetime(2001, 0, datum.value), '%-m/%-d/%y')","title":null}},
    "y":{"field":"t","type":"quantitative","scale":{"domain":[8,28],"nice":false,"zero":false},
         "axis":{"orient":"left","values":[8,12,16,20,24,28],"tickSize":18,"labelPadding":18,"grid":true,"title":"Surface Temperature, C","titlePadding":20}}}},
  {"data":{"values":[{"d":152.05,"t":10.0,"label":"5°C Boundary Temperature Increase, Run 19"}]},
   "mark":{"type":"text","align":"left","baseline":"alphabetic","fontSize":30,"font":"Liberation Sans","color":"black"},
   "encoding":{
    "x":{"field":"d","type":"quantitative","scale":{"domain":[150,310],"nice":false,"zero":false},
         "axis":{"orient":"bottom","values":[155,165,175,185,195,205,215,225,235,245,255,265,275,285,295,305],"tickSize":10,"labels":false,"grid":false,"domain":false,"title":null}},
    "y":{"field":"t","type":"quantitative","scale":{"domain":[8,28],"nice":false,"zero":false},
         "axis":{"orient":"left","values":[10,14,18,22,26],"tickSize":9,"labels":false,"grid":false,"domain":false,"title":null}},
    "text":{"field":"label","type":"nominal"}}}
 ],
 "resolve":{"axis":{"x":"independent","y":"independent"}}
}
],
"config":{
 "view":{"stroke":null},
 "font":"Liberation Sans",
 "axis":{"labelFont":"Liberation Sans","labelFontSize":28,"labelColor":"black","titleFont":"Liberation Sans","titleFontSize":31,"titleFontWeight":"normal","titleColor":"black","domainColor":"black","domainWidth":2,"tickColor":"black","tickWidth":1.5,"gridColor":"#dcdcdc","gridWidth":1.5,"labelOverlap":false,"labelFlush":false}
}
}
